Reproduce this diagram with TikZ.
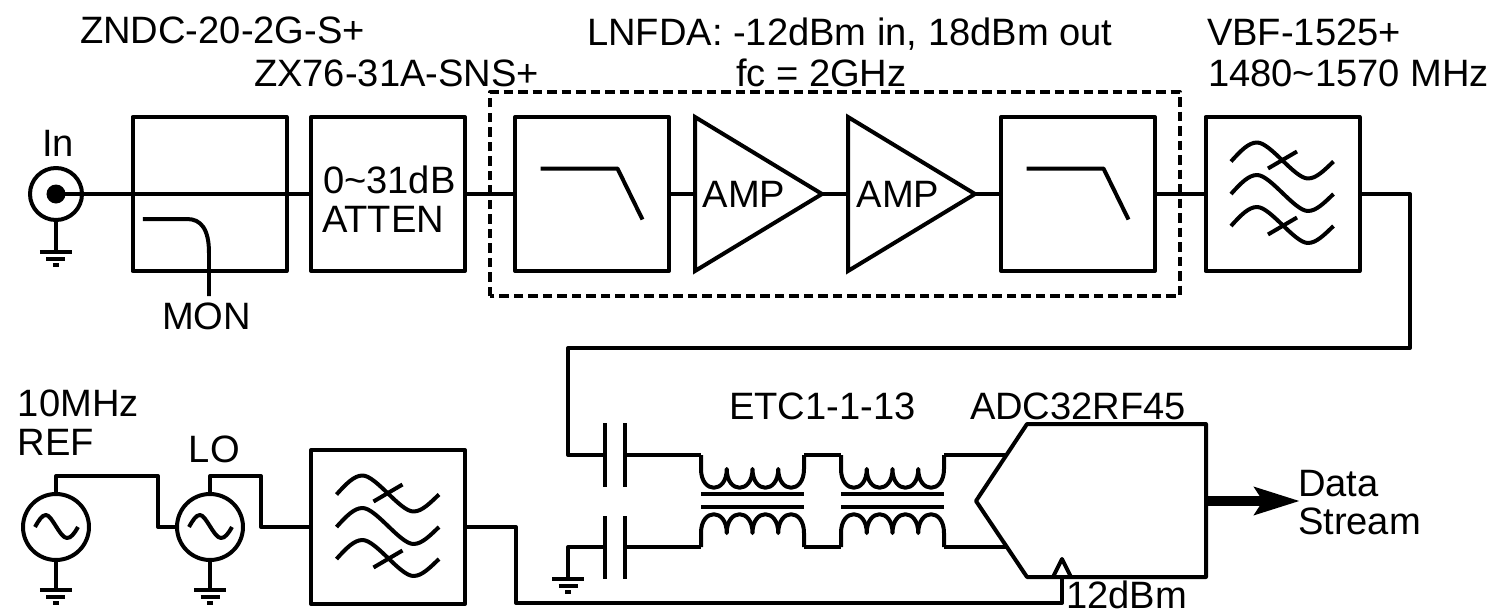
\documentclass[tikz,border=0pt]{standalone}
\usepackage{fontspec}
\setmainfont{Liberation Sans}
\usetikzlibrary{shapes.geometric,arrows.meta}
\tikzset{
  gndsym/.pic={
    \draw (-.16,0) -- (.16,0);
    \draw (-.095,-.065) -- (.095,-.065);
    \draw (-.03,-.125) -- (.03,-.125);
  },
  lpfsym/.pic={
    \draw (-.515,.255) -- (.255,.255) -- (.505,-.255);
  },
  bpfsym/.pic={
    \foreach \y in {.325,0,-.32}
      \draw (-.515,\y) .. controls (-.42,\y+.105) and (-.34,\y+.19) .. (-.255,\y+.19)
        .. controls (-.12,\y+.19) and (.12,\y-.17) .. (.255,\y-.17)
        .. controls (.34,\y-.17) and (.42,\y-.085) .. (.51,\y);
    \draw (-.145,.255) -- (.145,.425);
    \draw (-.145,-.405) -- (.145,-.235);
  },
  sinesym/.pic={
    \draw (-.21,0) .. controls (-.17,.07) and (-.14,.12) .. (-.1,.12)
      .. controls (-.04,.12) and (.04,-.11) .. (.11,-.11)
      .. controls (.15,-.11) and (.18,-.07) .. (.22,0);
  },
  xfmrsym/.pic={
    \coordinate (-tl) at (0,0);
    \coordinate (-tr) at (1.03,0);
    \coordinate (-bl) at (0,-.92);
    \coordinate (-br) at (1.03,-.92);
    % Upper winding
    \draw (-tl) -- (0,-.14)
      \foreach \k in {0,1,2,3} {
        .. controls (\k*.2575,-.39) and (\k*.2575+.2575,-.39) .. (\k*.2575+.2575,-.14)
      } -- (-tr);
    % Core
    \draw (0,-.39) -- (1.03,-.39);
    \draw (0,-.52) -- (1.03,-.52);
    % Lower winding
    \draw (-bl) -- (0,-.78)
      \foreach \k in {0,1,2,3} {
        .. controls (\k*.2575,-.53) and (\k*.2575+.2575,-.53) .. (\k*.2575+.2575,-.78)
      } -- (-br);
  }
}
\begin{document}
\begin{tikzpicture}[line width=0.04cm, line join=round,
    every node/.style={font=\fontsize{10.85}{13}\selectfont, inner sep=0, outer sep=0},
    blockbox/.style={draw, minimum size=1.54cm},
    ampbox/.style={draw, isosceles triangle, isosceles triangle stretches, minimum width=1.54cm, minimum height=1.27cm, anchor=lower side, line join=miter},
    srcbox/.style={draw, circle, minimum size=0.66cm},
    lbl/.style={anchor=base west}]
    \useasboundingbox (0,0) rectangle (14.94,6.14);
    % Titles
    \node[lbl] (tzndc) at (0.80,5.71) {ZNDC-20-2G-S+};
    \node[lbl] (tzx) at (2.54,5.28) {ZX76-31A-SNS+};
    \node[lbl] (tlna) at (5.87,5.69) {LNFDA: -12dBm in, 18dBm out};
    \node[lbl] (tfc) at (7.36,5.28) {fc = 2GHz};
    \node[lbl] (tvbf) at (12.07,5.69) {VBF-1525+};
    \node[lbl] (tband) at (12.08,5.28) {1480\textasciitilde1570 MHz};
    \node[lbl] (tin) at (0.42,4.58) {In};
    \node[lbl] (tmon) at (1.62,2.85) {MON};
    \node[lbl] (tref) at (0.18,1.98) {10MHz};
    \node[lbl] (tref2) at (0.18,1.59) {REF};
    \node[lbl] (tlo) at (1.89,1.52) {LO};
    \node[lbl] (tetc) at (7.29,1.95) {ETC1-1-13};
    \node[lbl] (tadc) at (9.70,1.95) {ADC32RF45};
    \node[lbl] (tclk) at (10.66,0.06) {12dBm};
    \node[lbl] (tdata) at (12.98,1.18) {Data};
    \node[lbl] (tstream) at (12.98,0.80) {Stream};
    % Upper chain
    \node[draw, circle, minimum size=0.52cm] (in) at (0.56,4.2) {};
    \node[circle, fill=black, minimum size=0.19cm] (indot) at (0.56,4.2) {};
    \node[blockbox] (coup) at (2.095,4.2) {};
    \node[blockbox] (atten) at (3.88,4.2) {};
    \node[lbl] (tatt) at (3.23,4.21) {0\textasciitilde31dB};
    \node[lbl] (tatt2) at (3.22,3.82) {ATTEN};
    \node[blockbox] (lpfa) at (5.92,4.2) {};
    \node[ampbox] (ampa) at (6.95,4.2) {};
    \node (tampa) at (7.44,4.195) {AMP};
    \node[ampbox] (ampb) at (8.48,4.2) {};
    \node (tampb) at (8.98,4.195) {AMP};
    \node[blockbox] (lpfb) at (10.78,4.2) {};
    \node[blockbox] (bpfa) at (12.825,4.2) {};
    \pic at (lpfa) {lpfsym};
    \pic at (lpfb) {lpfsym};
    \pic at (bpfa) {bpfsym};
    \draw[dash pattern=on 0.095cm off 0.05cm] (4.90,3.18) rectangle (11.80,5.22);
    \coordinate (gin) at (0.56,3.62);
    \pic at (gin) {gndsym};
    \draw (in.south) -- (gin);
    \draw (indot.center) -- (atten.west);
    \draw (atten.east) -- (lpfa.west);
    \draw (lpfa.east) -- (ampa.lower side);
    \draw (ampa.apex) -- (ampb.lower side);
    \draw (ampb.apex) -- (lpfb.west);
    \draw (lpfb.east) -- (bpfa.west);
    % Coupled port
    \coordinate (cpl) at (1.43,3.95);
    \coordinate (monend) at (2.09,3.18);
    \draw (cpl) -- (1.87,3.95) .. controls (2.01,3.95) and (2.09,3.85) .. (2.09,3.61) -- (monend);
    % Lower chain, sources
    \node[srcbox] (ref) at (0.56,0.87) {};
    \node[srcbox] (lo) at (2.10,0.87) {};
    \node[blockbox] (bpfb) at (3.88,0.87) {};
    \pic at (ref) {sinesym};
    \pic at (lo) {sinesym};
    \pic at (bpfb) {bpfsym};
    \coordinate (gref) at (0.56,0.24);
    \coordinate (glo) at (2.10,0.24);
    \pic at (gref) {gndsym};
    \pic at (glo) {gndsym};
    \draw (ref.south) -- (gref);
    \draw (lo.south) -- (glo);
    \coordinate (refa) at (1.58,1.38);
    \coordinate (loa) at (2.61,1.38);
    \draw (ref.north) |- (refa) |- (lo.west);
    \draw (lo.north) |- (loa) |- (bpfb.west);
    % Caps and baluns
    \coordinate (cal) at (6.05,1.59);
    \coordinate (car) at (6.25,1.59);
    \coordinate (cbl) at (6.05,0.67);
    \coordinate (cbr) at (6.25,0.67);
    \draw (6.05,1.91) -- (6.05,1.27);
    \draw (6.25,1.91) -- (6.25,1.27);
    \draw (6.05,0.98) -- (6.05,0.35);
    \draw (6.25,0.98) -- (6.25,0.35);
    \coordinate (gcap) at (5.68,0.35);
    \pic at (gcap) {gndsym};
    \draw (cbl) -| (gcap);
    \pic (baa) at (7.01,1.59) {xfmrsym};
    \pic (bab) at (8.41,1.59) {xfmrsym};
    \draw (car) -- (baa-tl);
    \draw (cbr) -- (baa-bl);
    \draw (baa-tr) -- (bab-tl);
    \draw (baa-br) -- (bab-bl);
    % ADC
    \coordinate (adctip) at (9.76,1.13);
    \coordinate (adctl) at (10.27,1.90);
    \coordinate (adcbl) at (10.27,0.37);
    \coordinate (adctr) at (12.06,1.90);
    \coordinate (adcbr) at (12.06,0.37);
    \coordinate (adca) at (10.065,1.59);
    \coordinate (adcb) at (10.065,0.67);
    \coordinate (adcout) at (12.06,1.13);
    \coordinate (dataend) at (13.0,1.13);
    \coordinate (clk) at (10.62,0.37);
    \draw (adctip) -- (adctl) -- (adctr) -- (adcbr) -- (adcbl) -- cycle;
    \draw (10.53,0.37) -- (10.62,0.55) -- (10.71,0.37);
    \draw (bab-tr) -- (adca);
    \draw (bab-br) -- (adcb);
    \draw[line width=0.1cm, -{Stealth[length=0.45cm, width=0.27cm, inset=0.08cm]}] (adcout) -- (dataend);
    % Long runs
    \coordinate (rta) at (14.10,2.66);
    \coordinate (rtb) at (5.68,2.66);
    \coordinate (rca) at (5.16,0.11);
    \draw (bpfa.east) -| (rta) -- (rtb) |- (cal);
    \draw (bpfb.east) -| (rca) -| (clk);
\end{tikzpicture}
\end{document}
